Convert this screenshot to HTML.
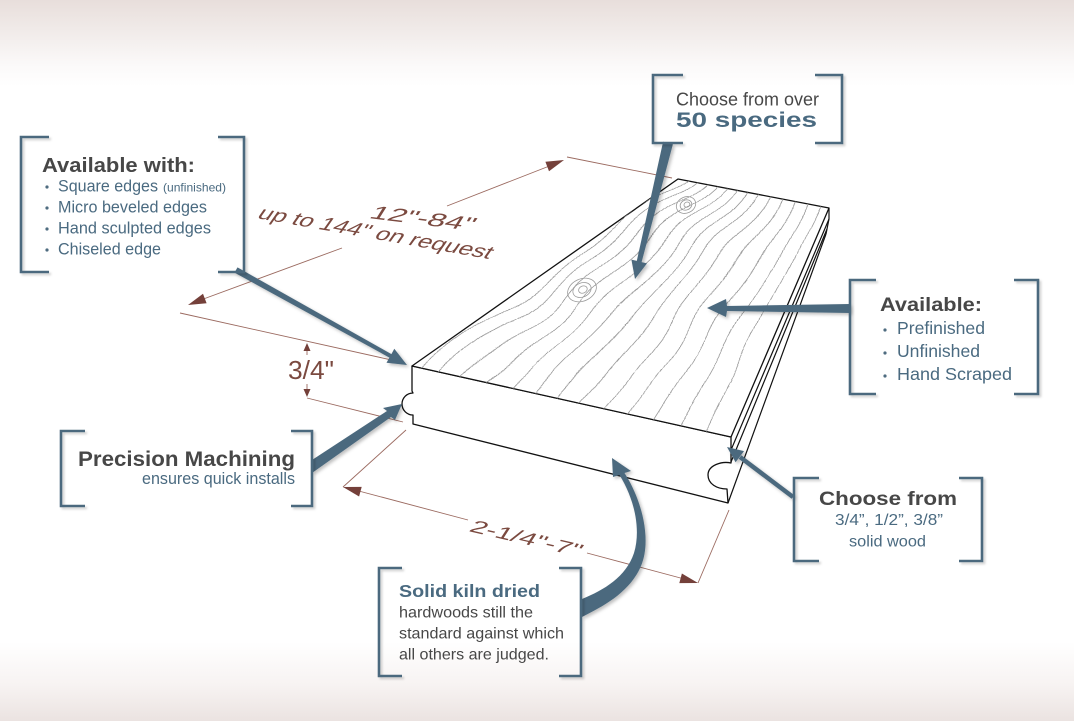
<!DOCTYPE html>
<html>
<head>
<meta charset="utf-8">
<style>
  html,body{margin:0;padding:0;background:#fff;}
  svg{display:block;}
  text{font-family:"Liberation Sans", Arial, sans-serif;}
</style>
</head>
<body>
<svg width="1074" height="721" viewBox="0 0 1074 721" xmlns="http://www.w3.org/2000/svg">
  <defs>
    <linearGradient id="bg" x1="0" y1="0" x2="0" y2="1">
      <stop offset="0" stop-color="#e8dedb"/>
      <stop offset="0.04" stop-color="#f0eae8"/>
      <stop offset="0.09" stop-color="#fbf9f9"/>
      <stop offset="0.12" stop-color="#ffffff"/>
      <stop offset="0.89" stop-color="#ffffff"/>
      <stop offset="0.95" stop-color="#f7f3f2"/>
      <stop offset="1" stop-color="#ebe3e1"/>
    </linearGradient>
    <filter id="shadow" x="-20%" y="-20%" width="140%" height="140%">
      <feDropShadow dx="2" dy="2" stdDeviation="1.5" flood-color="#000" flood-opacity="0.25"/>
    </filter>
    <filter id="bshadow" x="-10%" y="-10%" width="120%" height="120%">
      <feDropShadow dx="2" dy="2" stdDeviation="1" flood-color="#000" flood-opacity="0.18"/>
    </filter>
    <filter id="wave" x="-10%" y="-10%" width="120%" height="120%">
      <feTurbulence type="fractalNoise" baseFrequency="0.012 0.016" numOctaves="1" seed="7" result="n"/>
      <feDisplacementMap in="SourceGraphic" in2="n" scale="26" xChannelSelector="R" yChannelSelector="G"/>
    </filter>
    <clipPath id="topclip">
      <polygon points="412,366 678,179 829,208 731,437"/>
    </clipPath>
  </defs>

  <!-- background -->
  <rect x="0" y="0" width="1074" height="721" fill="url(#bg)"/>

  <!-- dimension lines -->
  <g stroke="#9b6a60" stroke-width="0.9" fill="none">
    <line x1="198" y1="301" x2="342" y2="248"/>
    <line x1="447" y1="206" x2="552" y2="165"/>
    <line x1="180" y1="313" x2="405" y2="363"/>
    <line x1="567" y1="157" x2="672" y2="178"/>
    <line x1="307" y1="350" x2="307" y2="355"/>
    <line x1="307" y1="384" x2="307" y2="392"/>
    <line x1="307" y1="398" x2="403" y2="422"/>
    <line x1="355" y1="490" x2="468" y2="520"/>
    <line x1="587" y1="553" x2="688" y2="580"/>
    <line x1="343" y1="487" x2="406" y2="430"/>
    <line x1="698" y1="583" x2="729" y2="510"/>
  </g>
  <g fill="#74403a">
    <polygon points="188,305 206.6,303.2 203.0,293.8"/>
    <polygon points="564,160 549.0,171.2 545.4,161.8"/>
    <polygon points="307,343 303.5,351 310.5,351"/>
    <polygon points="307,397 303.5,389 310.5,389"/>
    <polygon points="343,487 359.1,496.5 361.7,486.9"/>
    <polygon points="698,583 679.3,583.1 681.9,573.5"/>
  </g>

  <!-- dimension text -->
  <g fill="#7b4a40">
    <text transform="translate(368,218) rotate(7) skewX(-25)" font-size="19" textLength="104" lengthAdjust="spacingAndGlyphs">12"-84"</text>
    <text transform="translate(256,218) rotate(10) skewX(-25)" font-size="19" textLength="236" lengthAdjust="spacingAndGlyphs">up to 144" on request</text>
    <text x="288" y="379" font-size="26" textLength="46" lengthAdjust="spacingAndGlyphs">3/4"</text>
    <text transform="translate(468,531) rotate(13) skewX(-20)" font-size="18" textLength="113" lengthAdjust="spacingAndGlyphs">2-1/4"-7"</text>
  </g>

  <!-- board: side face -->
  <polygon points="731,437 829,208 829,219 826,232 728,503" fill="#fff" stroke="none"/>
  <!-- board: front face -->
  <path d="M412,366 L731,437 L731,463 C722,461 708,465 708,475 C708,484 717,489 727,489 L728,503 L413,424 L413,415 A11,11 0 0 1 413,393 L412,391 Z" fill="#fff" stroke="#111" stroke-width="1.3" stroke-linejoin="round"/>
  <!-- board: top face -->
  <polygon points="412,366 678,179 829,208 731,437" fill="#fff" stroke="#111" stroke-width="1.3" stroke-linejoin="round"/>

  <!-- grain -->
  <g clip-path="url(#topclip)">
    <g filter="url(#wave)" stroke="#9a9a9a" stroke-width="0.8" fill="none">
      <line x1="405.8" y1="382.2" x2="703.0" y2="166.8"/>
      <line x1="431.4" y1="382.7" x2="705.6" y2="172.3"/>
      <line x1="454.3" y1="387.8" x2="715.6" y2="174.2"/>
      <line x1="477.3" y1="392.9" x2="725.5" y2="176.2"/>
      <line x1="500.2" y1="398.0" x2="735.5" y2="178.0"/>
      <line x1="523.1" y1="403.2" x2="745.5" y2="179.9"/>
      <line x1="546.1" y1="408.3" x2="755.5" y2="181.8"/>
      <line x1="569.0" y1="413.3" x2="765.4" y2="183.7"/>
      <line x1="595.1" y1="419.2" x2="776.9" y2="185.8"/>
      <line x1="621.3" y1="425.1" x2="788.3" y2="187.9"/>
      <line x1="647.5" y1="431.0" x2="799.7" y2="190.0"/>
      <line x1="673.8" y1="436.7" x2="811.0" y2="192.3"/>
      <line x1="699.9" y1="442.6" x2="822.5" y2="194.4"/>
    </g>
    <g stroke="#9a9a9a" stroke-width="0.8" fill="none">
      <ellipse cx="582" cy="290" rx="15" ry="11" transform="rotate(-25 582 290)"/>
      <ellipse cx="582" cy="290" rx="9.5" ry="7" transform="rotate(-25 582 290)"/>
      <ellipse cx="583" cy="290" rx="4.5" ry="3.5" transform="rotate(-25 582 290)"/>
      <ellipse cx="686" cy="205" rx="10" ry="8" transform="rotate(-25 686 205)"/>
      <ellipse cx="686" cy="205" rx="6" ry="5" transform="rotate(-25 686 205)"/>
      <ellipse cx="687" cy="205" rx="3" ry="2.5" transform="rotate(-25 686 205)"/>
    </g>
  </g>

  <!-- side lines -->
  <g stroke="#111" stroke-width="1.2" fill="none">
    <line x1="731" y1="450" x2="829" y2="219"/>
    <line x1="731" y1="462" x2="827" y2="229"/>
    <line x1="728" y1="503" x2="826" y2="234"/>
    <polyline points="829,208 829,219 827,229 826,234"/>
  </g>

  <!-- arrows -->
  <g fill="#4b697e" filter="url(#shadow)">
    <polygon points="237.5,267.4 391.4,354.1 394.3,348.8 407,365 386.5,362.8 389.4,357.6 234.5,272.6"/>
    <polygon points="312,460 387,411 383,408 402,404 395,420 391,417 312,473"/>
    <polygon points="663.1,141.8 672.9,144.2 641.6,262.1 647.0,263.4 635,279 631.4,259.6 636.8,260.9"/>
    <polygon points="850,304 727,306 726,299 707,308 726,317 727,311 850,313"/>
    <line x1="793" y1="497" x2="740" y2="457" stroke="#4b697e" stroke-width="4.5"/>
    <polygon points="727,447 744,451.1 735.6,462.3"/>
    <path d="M619.5,475 L613,477 L612,458 L631,471 L624.5,473 C642,500 652,540 641,566 C630,592 604,606 582,617 L582,599 C604,590 626,577 634,553 C641,530 635,500 619.5,475 Z"/>
  </g>

  <!-- brackets -->
  <g fill="none" stroke="#4b697e" stroke-width="2.6" filter="url(#bshadow)">
    <polyline points="49,137 21,137 21,272 49,272"/>
    <polyline points="218,137 244,137 244,272 218,272"/>
    <polyline points="683,75 653,75 653,143 683,143"/>
    <polyline points="815,75 842,75 842,143 815,143"/>
    <polyline points="876,280 850,280 850,394 876,394"/>
    <polyline points="1014,280 1038,280 1038,394 1014,394"/>
    <polyline points="85,431 61,431 61,506 85,506"/>
    <polyline points="291,431 312,431 312,506 291,506"/>
    <polyline points="402,568 379,568 379,676 402,676"/>
    <polyline points="559,568 581,568 581,676 559,676"/>
    <polyline points="819,478 794,478 794,561 819,561"/>
    <polyline points="959,478 982,478 982,561 959,561"/>
  </g>

  <!-- Box 1 text -->
  <text x="42" y="172" font-size="20" font-weight="bold" fill="#474747" textLength="153" lengthAdjust="spacingAndGlyphs">Available with:</text>
  <g fill="#4f6c80">
    <circle cx="47" cy="187" r="1.6"/>
    <circle cx="47" cy="208" r="1.6"/>
    <circle cx="47" cy="229" r="1.6"/>
    <circle cx="47" cy="250" r="1.6"/>
  </g>
  <g fill="#4a6a80" font-size="16.5">
    <text x="58" y="191.5" textLength="100" lengthAdjust="spacingAndGlyphs">Square edges</text>
    <text x="163" y="191.5" font-size="12" textLength="63" lengthAdjust="spacingAndGlyphs">(unfinished)</text>
    <text x="58" y="212.5" textLength="149" lengthAdjust="spacingAndGlyphs">Micro beveled edges</text>
    <text x="58" y="233.5" textLength="153" lengthAdjust="spacingAndGlyphs">Hand sculpted edges</text>
    <text x="58" y="254.5" textLength="103" lengthAdjust="spacingAndGlyphs">Chiseled edge</text>
  </g>

  <!-- Box 2 text -->
  <text x="676" y="105.5" font-size="18" fill="#474747" textLength="143" lengthAdjust="spacingAndGlyphs">Choose from over</text>
  <text x="676" y="127" font-size="21" font-weight="bold" fill="#4a6a80" textLength="141" lengthAdjust="spacingAndGlyphs">50 species</text>

  <!-- Box 3 text -->
  <text x="880" y="311" font-size="19" font-weight="bold" fill="#474747" textLength="102" lengthAdjust="spacingAndGlyphs">Available:</text>
  <g fill="#4f6c80">
    <circle cx="885" cy="330" r="1.6"/>
    <circle cx="885" cy="353" r="1.6"/>
    <circle cx="885" cy="376" r="1.6"/>
  </g>
  <g fill="#4a6a80" font-size="17.5">
    <text x="897" y="334" textLength="88" lengthAdjust="spacingAndGlyphs">Prefinished</text>
    <text x="897" y="357" textLength="83" lengthAdjust="spacingAndGlyphs">Unfinished</text>
    <text x="897" y="380" textLength="115" lengthAdjust="spacingAndGlyphs">Hand Scraped</text>
  </g>

  <!-- Box 4 text -->
  <text x="78" y="466" font-size="21" font-weight="bold" fill="#474747" textLength="217" lengthAdjust="spacingAndGlyphs">Precision Machining</text>
  <text x="142" y="484" font-size="17" fill="#4a6a80" textLength="153" lengthAdjust="spacingAndGlyphs">ensures quick installs</text>

  <!-- Box 5 text -->
  <text x="399" y="597" font-size="17.5" font-weight="bold" fill="#4a6a80" textLength="141" lengthAdjust="spacingAndGlyphs">Solid kiln dried</text>
  <g fill="#474747" font-size="16">
    <text x="399" y="617.5" textLength="134" lengthAdjust="spacingAndGlyphs">hardwoods still the</text>
    <text x="399" y="638.5" textLength="165" lengthAdjust="spacingAndGlyphs">standard against which</text>
    <text x="399" y="659.5" textLength="150" lengthAdjust="spacingAndGlyphs">all others are judged.</text>
  </g>

  <!-- Box 6 text -->
  <text x="819" y="505" font-size="19" font-weight="bold" fill="#474747" textLength="138" lengthAdjust="spacingAndGlyphs">Choose from</text>
  <text x="835" y="525" font-size="16" fill="#4a6a80" textLength="108" lengthAdjust="spacingAndGlyphs">3/4”, 1/2”, 3/8”</text>
  <text x="849" y="546.5" font-size="16" fill="#4a6a80" textLength="77" lengthAdjust="spacingAndGlyphs">solid wood</text>
</svg>
</body>
</html>
